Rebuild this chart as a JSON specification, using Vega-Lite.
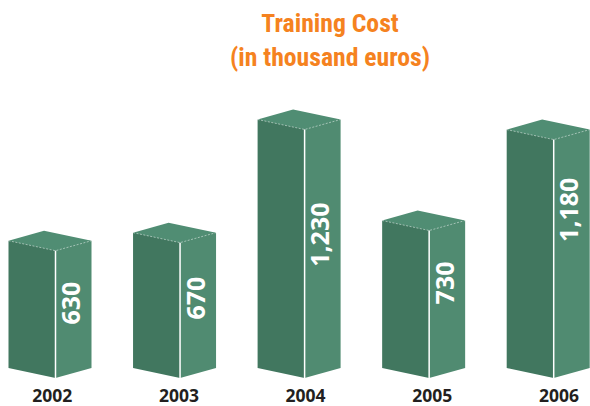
{
"$schema":"https://vega.github.io/schema/vega-lite/v6.json",
"width":590,"height":298,
"autosize":"none",
"padding":{"left":0,"right":0,"top":70,"bottom":38},
"background":"white",
"view":{"stroke":null},
"title":{"text":["Training Cost","(in thousand euros)"],"font":"Roboto Condensed, Arial Narrow, Roboto","fontWeight":"bold","fontSize":25.7,"lineHeight":34,"color":"#F58220","anchor":"middle","dx":35,"offset":-27,"baseline":"bottom"},
"data":{"values":[{"year":"2002","value":630},{"year":"2003","value":670},{"year":"2004","value":1230},{"year":"2005","value":730},{"year":"2006","value":1180}]},
"resolve":{"scale":{"x":"independent"},"axis":{"x":"independent"}},
"layer":[
{"encoding":{
  "x":{"field":"year","type":"ordinal","axis":null,"scale":{"type":"point","padding":0,"range":[50,548.2]}},
  "y":{"field":"value","type":"quantitative","axis":null,"scale":{"domain":[0,1475],"nice":false}}
 },
 "layer":[
  {"mark":{"type":"bar","width":47,"xOffset":-18,"color":"#41775F"}},
  {"mark":{"type":"bar","width":36,"xOffset":23.5,"color":"#508B71"}},
  {"mark":{"type":"point","filled":true,"opacity":1,"size":6889,"color":"#508D73","strokeWidth":0,"shape":"M-1,0L-0.1446,-0.241L1,0L0.1325,0.241Z"}},
  {"mark":{"type":"point","filled":false,"opacity":0.6,"size":6889,"color":"#FFFFFF","strokeWidth":0.8,"strokeDash":[2,1.5],"shape":"M-1,0L0.1325,0.241L1,0"}},
  {"mark":{"type":"point","filled":true,"opacity":1,"size":6889,"color":"#41775F","strokeWidth":0,"shape":"M-1,0L0.1325,0L0.1325,0.241Z"},"encoding":{"y":{"datum":0}}},
  {"mark":{"type":"point","filled":true,"opacity":1,"size":6889,"color":"#508B71","strokeWidth":0,"shape":"M0.1325,0L1,0L0.1325,0.241Z"},"encoding":{"y":{"datum":0}}},
  {"mark":{"type":"rule","color":"#FFFFFF","strokeWidth":1.5,"xOffset":5.5,"yOffset":10,"y2Offset":10},"encoding":{"y2":{"datum":0}}},
  {"transform":[{"filter":"datum.year=='2002'||datum.year=='2005'"}],"mark":{"type":"text","font":"Open Sans","fontWeight":"bold","fontSize":25,"color":"#FFFFFF","angle":270,"align":"right","baseline":"middle","xOffset":22,"yOffset":41},"encoding":{"text":{"field":"value","type":"quantitative","format":","}}},
  {"transform":[{"filter":"datum.year=='2003'"}],"mark":{"type":"text","font":"Open Sans","fontWeight":"bold","fontSize":25,"color":"#FFFFFF","angle":270,"align":"right","baseline":"middle","xOffset":22,"yOffset":44},"encoding":{"text":{"field":"value","type":"quantitative","format":","}}},
  {"transform":[{"filter":"datum.year=='2004'"}],"mark":{"type":"text","font":"Open Sans","fontWeight":"bold","fontSize":25,"color":"#FFFFFF","angle":270,"align":"right","baseline":"middle","xOffset":22,"yOffset":83},"encoding":{"text":{"field":"value","type":"quantitative","format":","}}},
  {"transform":[{"filter":"datum.year=='2006'"}],"mark":{"type":"text","font":"Open Sans","fontWeight":"bold","fontSize":25,"color":"#FFFFFF","angle":270,"align":"right","baseline":"middle","xOffset":22,"yOffset":48},"encoding":{"text":{"field":"value","type":"quantitative","format":","}}}
 ]},
{"mark":{"type":"point","opacity":0},
 "encoding":{"x":{"field":"year","type":"ordinal","title":null,"scale":{"type":"point","padding":0,"range":[51.7,558.5]},
  "axis":{"orient":"bottom","domain":false,"ticks":false,"grid":false,"labelAngle":0,"labelFont":"Open Sans","labelFontWeight":"bold","labelFontSize":17.5,"labelColor":"#231F20","labelPadding":19}}}}
]
}
